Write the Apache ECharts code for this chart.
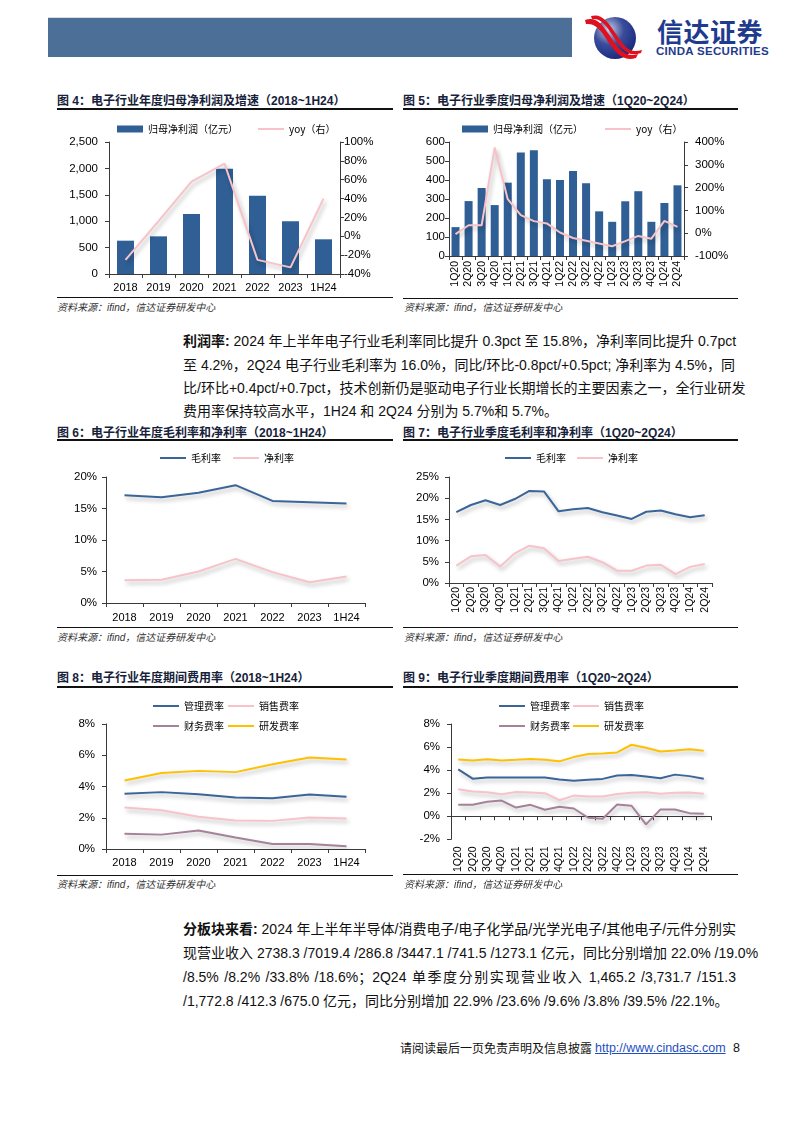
<!DOCTYPE html>
<html><head><meta charset="utf-8">
<script src="https://cdn.jsdelivr.net/npm/echarts@6/dist/echarts.min.js"></script>
<style>
body{margin:0;width:794px;height:1123px;position:relative;background:#fff;overflow:hidden;font-family:"Liberation Sans","Noto Sans CJK SC",sans-serif;}
.abs{position:absolute;}
.ttl{position:absolute;font:bold 12px "Liberation Sans","Noto Sans CJK SC";color:#16223a;white-space:nowrap;line-height:16px;}
.hr{position:absolute;background:#111;}
.src{position:absolute;font:italic 10px "Liberation Sans","Noto Sans CJK SC";color:#333;white-space:nowrap;line-height:14px;}
.pl{position:absolute;left:183px;width:551px;font:14px "Liberation Sans","Noto Sans CJK SC";color:#111;line-height:20px;text-align:justify;text-align-last:justify;white-space:nowrap;}
.pl.last{text-align-last:left;}
</style>
</head><body>
<script>
// ---------- DATA ----------
const annualCats = ['2018','2019','2020','2021','2022','2023','1H24'];
const quarterCats = ['1Q20','2Q20','3Q20','4Q20','1Q21','2Q21','3Q21','4Q21','1Q22','2Q22','3Q22','4Q22','1Q23','2Q23','3Q23','4Q23','1Q24','2Q24'];

const annualProfit = [631, 713, 1136, 1995, 1484, 997, 657];
const annualProfitYoy = [-25, 16, 58, 77, -25, -33, 40];

const quarterProfit = [152, 289, 358, 268, 386, 545, 556, 404, 400, 448, 383, 235, 180, 288, 341, 180, 279, 372];
const quarterProfitYoy = [-4, 35, 35, 376, 149, 79, 53, 43, 3, -21, -33, -45, -57, -35, -12, -24, 54, 28];

const annualGross = [17.1, 16.8, 17.5, 18.7, 16.2, 16.0, 15.8];
const annualNet = [3.6, 3.7, 5.0, 7.0, 4.9, 3.3, 4.2];

const quarterGross = [16.7, 18.4, 19.5, 18.4, 19.8, 21.7, 21.6, 16.9, 17.4, 17.7, 16.7, 15.9, 15.1, 16.8, 17.1, 16.2, 15.5, 16.0];
const quarterNet = [4.1, 6.3, 6.6, 3.9, 7.0, 8.8, 8.2, 5.2, 5.7, 6.2, 4.9, 2.9, 2.9, 4.1, 4.3, 2.1, 3.8, 4.5];

const annualAdmin = [3.53, 3.64, 3.51, 3.29, 3.25, 3.49, 3.34];
const annualSales = [2.65, 2.48, 2.07, 1.82, 1.80, 2.01, 1.95];
const annualFinance = [0.98, 0.92, 1.18, 0.73, 0.32, 0.32, 0.17];
const annualRD = [4.39, 4.86, 5.00, 4.92, 5.43, 5.86, 5.73];

const quarterAdmin = [4.06, 3.26, 3.37, 3.37, 3.37, 3.37, 3.37, 3.18, 3.07, 3.16, 3.24, 3.53, 3.58, 3.45, 3.29, 3.61, 3.48, 3.26];
const quarterSales = [2.35, 2.14, 2.09, 1.90, 2.11, 2.06, 2.00, 1.39, 1.79, 1.71, 1.71, 1.93, 2.03, 2.09, 1.95, 2.03, 2.06, 1.95];
const quarterFinance = [0.99, 0.99, 1.26, 1.36, 0.75, 0.99, 0.56, 0.83, 0.67, -0.13, -0.21, 1.02, 0.91, -0.70, 0.59, 0.59, 0.27, 0.21];
const quarterRD = [4.92, 4.84, 4.95, 4.84, 4.89, 4.97, 4.89, 4.76, 5.13, 5.40, 5.45, 5.53, 6.20, 5.94, 5.61, 5.70, 5.80, 5.67];

// ---------- STYLE ----------
const C_BAR = '#2f5f95', C_BLUE = '#3a6598', C_PINK = '#f7c3c8', C_MAUVE = '#a5819a', C_GOLD = '#ffc000';
const FONT = '"Liberation Sans", Arial, sans-serif';
const CJK = '"Noto Sans CJK SC", sans-serif';
const AXC = '#3a3a3a';
const shadow = {shadowColor:'rgba(0,0,0,0.28)', shadowBlur:4, shadowOffsetX:2, shadowOffsetY:3};

function mk(x,y,w,h){
  const d=document.createElement('div');
  d.style.cssText='position:absolute;left:'+x+'px;top:'+y+'px;width:'+w+'px;height:'+h+'px';
  document.body.appendChild(d);
  return echarts.init(d,null,{renderer:'canvas'});
}
function catAxis(cats, rotate, margin){
  return {type:'category', data:cats, boundaryGap:true,
    axisLine:{show:true, lineStyle:{color:AXC,width:1}},
    axisTick:{show:true, length:4, lineStyle:{color:AXC}},
    axisLabel:{color:'#000', fontFamily:FONT, fontSize:rotate?10.5:11, rotate:rotate||0, margin:margin, interval:0}};
}
function valAxis(min,max,interval,fmt,margin,pos){
  return {type:'value', min:min, max:max, interval:interval, position:pos||'left',
    splitLine:{show:false},
    axisLine:{show:true, lineStyle:{color:AXC,width:1}},
    axisTick:{show:true, length:4, lineStyle:{color:AXC}},
    axisLabel:{color:'#000', fontFamily:FONT, fontSize:11.5, margin:margin, formatter:fmt}};
}
function lg(name,left,top){
  return {data:[{name:name, icon:'rect'}], left:left, top:top, itemWidth:26, itemHeight:2, selectedMode:false, padding:0,
    textStyle:{fontFamily:CJK, fontSize:10, color:'#000'}};
}
function lgBar(name,left,top){
  return {data:[{name:name, icon:'rect'}], left:left, top:top, itemWidth:26, itemHeight:7, selectedMode:false, padding:0,
    textStyle:{fontFamily:CJK, fontSize:10, color:'#000'}};
}
function lineS(name,data,color,yIdx){
  return {type:'line', name:name, data:data, yAxisIndex:yIdx||0, symbol:'none', smooth:false,
    lineStyle:Object.assign({color:color, width:2}, shadow), itemStyle:{color:color}};
}
const pct = v => v + '%';
const thou = v => v.toLocaleString('en-US');

// ---------- FIG 4 ----------
mk(50,112,350,185).setOption({animation:false,
  grid:{left:59, top:30, width:231, height:132},
  legend:[ lgBar('归母净利润（亿元）',67,12), lg('yoy（右）',208,12) ],
  xAxis:catAxis(annualCats,0,8),
  yAxis:[valAxis(0,2500,500,thou,11), valAxis(-40,100,20,pct,4,'right')],
  series:[
    {type:'bar', name:'归母净利润（亿元）', data:annualProfit, barWidth:17, itemStyle:{color:C_BAR}},
    lineS('yoy（右）', annualProfitYoy, C_PINK, 1)
  ]});

// ---------- FIG 5 ----------
mk(400,112,350,185).setOption({animation:false,
  grid:{left:49, top:30, width:235, height:114},
  legend:[ lgBar('归母净利润（亿元）',62,12), lg('yoy（右）',205,12) ],
  xAxis:catAxis(quarterCats,90,5),
  yAxis:[valAxis(0,600,100,null,4), valAxis(-100,400,100,pct,11,'right')],
  series:[
    {type:'bar', name:'归母净利润（亿元）', data:quarterProfit, barWidth:8, itemStyle:{color:C_BAR}},
    lineS('yoy（右）', quarterProfitYoy, C_PINK, 1)
  ]});

// ---------- FIG 6 ----------
mk(50,445,350,182).setOption({animation:false,
  grid:{left:56, top:32, width:259, height:126},
  legend:[lg('毛利率',110,8), lg('净利率',183,8)],
  xAxis:catAxis(annualCats,0,9),
  yAxis:valAxis(0,20,5,pct,9),
  series:[lineS('毛利率',annualGross,C_BLUE), lineS('净利率',annualNet,C_PINK)]});

// ---------- FIG 7 ----------
mk(400,445,350,182).setOption({animation:false,
  grid:{left:49, top:32, width:263, height:106},
  legend:[lg('毛利率',105,8), lg('净利率',177,8)],
  xAxis:catAxis(quarterCats,90,4),
  yAxis:valAxis(0,25,5,pct,10),
  series:[lineS('毛利率',quarterGross,C_BLUE), lineS('净利率',quarterNet,C_PINK)]});

// ---------- FIG 8 ----------
mk(50,695,350,180).setOption({animation:false,
  grid:{left:56, top:29, width:259, height:125},
  legend:[lg('管理费率',103,6), lg('销售费率',178,6), lg('财务费率',103,26), lg('研发费率',178,26)],
  xAxis:catAxis(annualCats,0,8),
  yAxis:valAxis(0,8,2,pct,11),
  series:[lineS('管理费率',annualAdmin,C_BLUE), lineS('销售费率',annualSales,C_PINK),
          lineS('财务费率',annualFinance,C_MAUVE), lineS('研发费率',annualRD,C_GOLD)]});

// ---------- FIG 9 ----------
mk(400,695,350,180).setOption({animation:false,
  grid:{left:51, top:29, width:260, height:125},
  legend:[lg('管理费率',99,6), lg('销售费率',173,6), lg('财务费率',99,26), lg('研发费率',173,26)],
  xAxis:catAxis(quarterCats,90,7),
  yAxis:valAxis(-2,8,2,pct,11),
  series:[lineS('管理费率',quarterAdmin,C_BLUE), lineS('销售费率',quarterSales,C_PINK),
          lineS('财务费率',quarterFinance,C_MAUVE), lineS('研发费率',quarterRD,C_GOLD)]});
</script>

<!-- header -->
<div class="abs" style="left:48px;top:17px;width:524px;height:1px;background:#d8dde4"></div>
<div class="abs" style="left:48px;top:18px;width:524px;height:39px;background:#4b6f97"></div>
<svg class="abs" style="left:582px;top:14px" width="62" height="48" viewBox="0 0 62 48">
  <defs><radialGradient id="g" cx="0.35" cy="0.3" r="0.8"><stop offset="0" stop-color="#c9cfe6"/><stop offset="0.45" stop-color="#3a4d9a"/><stop offset="1" stop-color="#14237a"/></radialGradient></defs>
  <circle cx="33" cy="24" r="21" fill="url(#g)"/>
  <path d="M3 6 C14 2 20 10 28 22 C36 34 42 44 56 40 L54 44 C40 48 33 38 25 26 C18 15 13 9 4 10 Z" fill="#e0101f"/>
  <path d="M9 2 C20 -1 26 8 34 20 C42 32 47 40 60 36 L59 39 C45 44 39 34 31 22 C24 11 19 4 10 5 Z" fill="#e0101f"/>
</svg>
<div class="abs" style="left:657px;top:17px;font:bold 26px 'Noto Sans CJK SC';color:#1f3b8e;letter-spacing:0.5px;line-height:28px;">信达证券</div>
<div class="abs" style="left:656px;top:45px;font:bold 11.5px 'Liberation Sans';color:#1f3b8e;line-height:13px;letter-spacing:0.3px">CINDA SECURITIES</div>

<!-- fig 4 / 5 frames -->
<div class="ttl" style="left:57px;top:93px">图 4：电子行业年度归母净利润及增速（2018~1H24）</div>
<div class="hr" style="left:57px;top:108px;width:336px;height:1.5px"></div>
<div class="hr" style="left:57px;top:297px;width:336px;height:1px"></div>
<div class="src" style="left:57px;top:301px">资料来源：ifind，信达证券研发中心</div>

<div class="ttl" style="left:403px;top:93px">图 5：电子行业季度归母净利润及增速（1Q20~2Q24）</div>
<div class="hr" style="left:403px;top:108px;width:335px;height:1.5px"></div>
<div class="hr" style="left:403px;top:298px;width:335px;height:1px"></div>
<div class="src" style="left:404px;top:301px">资料来源：ifind，信达证券研发中心</div>

<!-- paragraph 1 -->
<div class="pl" style="top:331px"><b>利润率:</b> 2024 年上半年电子行业毛利率同比提升 0.3pct 至 15.8%，净利率同比提升 0.7pct</div>
<div class="pl" style="top:355px">至 4.2%，2Q24 电子行业毛利率为 16.0%，同比/环比-0.8pct/+0.5pct; 净利率为 4.5%，同</div>
<div class="pl" style="top:378px">比/环比+0.4pct/+0.7pct，技术创新仍是驱动电子行业长期增长的主要因素之一，全行业研发</div>
<div class="pl last" style="top:401px">费用率保持较高水平，1H24 和 2Q24 分别为 5.7%和 5.7%。</div>

<!-- fig 6 / 7 frames -->
<div class="ttl" style="left:57px;top:425px">图 6：电子行业年度毛利率和净利率（2018~1H24）</div>
<div class="hr" style="left:57px;top:439px;width:336px;height:1.5px"></div>
<div class="hr" style="left:57px;top:627px;width:336px;height:1px"></div>
<div class="src" style="left:57px;top:631px">资料来源：ifind，信达证券研发中心</div>

<div class="ttl" style="left:403px;top:425px">图 7：电子行业季度毛利率和净利率（1Q20~2Q24）</div>
<div class="hr" style="left:403px;top:439px;width:335px;height:1.5px"></div>
<div class="hr" style="left:403px;top:627px;width:335px;height:1px"></div>
<div class="src" style="left:404px;top:631px">资料来源：ifind，信达证券研发中心</div>

<!-- fig 8 / 9 frames -->
<div class="ttl" style="left:57px;top:670px">图 8：电子行业年度期间费用率（2018~1H24）</div>
<div class="hr" style="left:57px;top:686px;width:336px;height:1.5px"></div>
<div class="hr" style="left:57px;top:875px;width:336px;height:1px"></div>
<div class="src" style="left:57px;top:878px">资料来源：ifind，信达证券研发中心</div>

<div class="ttl" style="left:403px;top:670px">图 9：电子行业季度期间费用率（1Q20~2Q24）</div>
<div class="hr" style="left:403px;top:686px;width:335px;height:1.5px"></div>
<div class="hr" style="left:403px;top:874px;width:335px;height:1px"></div>
<div class="src" style="left:404px;top:878px">资料来源：ifind，信达证券研发中心</div>

<!-- paragraph 2 -->
<div class="pl" style="top:919px;width:553px"><b>分板块来看:</b> 2024 年上半年半导体/消费电子/电子化学品/光学光电子/其他电子/元件分别实</div>
<div class="pl" style="top:943px;width:553px">现营业收入 2738.3 /7019.4 /286.8 /3447.1 /741.5 /1273.1 亿元，同比分别增加 22.0% /19.0%</div>
<div class="pl" style="top:967px;width:553px">/8.5% /8.2% /33.8% /18.6%；2Q24 单季度分别实现营业收入 1,465.2 /3,731.7 /151.3</div>
<div class="pl last" style="top:991px;width:553px">/1,772.8 /412.3 /675.0 亿元，同比分别增加 22.9% /23.6% /9.6% /3.8% /39.5% /22.1%。</div>

<!-- footer -->
<div class="abs" style="left:400px;top:1040px;font:12px 'Noto Sans CJK SC';color:#111;line-height:16px;white-space:nowrap">请阅读最后一页免责声明及信息披露</div>
<div class="abs" style="left:595px;top:1040px;font:12.5px 'Liberation Sans';color:#1f4fbf;text-decoration:underline;line-height:16px">http://www.cindasc.com</div>
<div class="abs" style="left:733px;top:1040px;font:12.5px 'Liberation Sans';color:#111;line-height:16px">8</div>
</body></html>
